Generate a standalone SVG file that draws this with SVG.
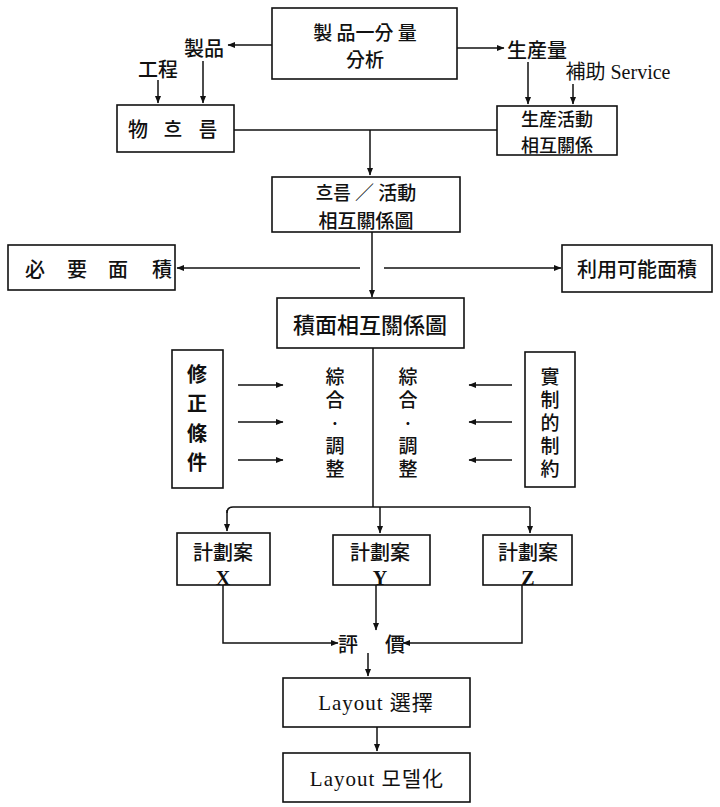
<svg xmlns="http://www.w3.org/2000/svg" width="720" height="807" viewBox="0 0 720 807">
<defs>
<marker id="ah" markerWidth="8" markerHeight="7" refX="7" refY="3.5" orient="auto" markerUnits="userSpaceOnUse">
<path d="M0,0.5 L7.5,3.5 L0,6.5 Z" fill="#111"/>
</marker>
<style>
rect{fill:#fff;stroke:#111;stroke-width:1.6}
.c line,.c polyline,.c path{stroke:#111;stroke-width:1.5;fill:none}
.a{marker-end:url(#ah)}
text{font-family:"Liberation Serif","Noto Sans CJK KR",serif;font-size:20px;fill:#111;text-anchor:middle;dominant-baseline:central}
.k{font-family:"Noto Sans CJK KR","Noto Sans CJK SC",sans-serif;font-weight:500}
.b{font-size:22px}
.s19{font-size:19px}
.s18{font-size:18px}
.vt{writing-mode:vertical-rl;text-orientation:upright;font-size:19px;letter-spacing:4px;dominant-baseline:auto}
.lat{font-family:"Liberation Serif","Noto Sans CJK KR",serif;font-size:21px;letter-spacing:1px}
.xyz{font-family:"Liberation Serif",serif;font-weight:bold}
</style>
</defs>
<rect width="720" height="807" style="fill:#fff;stroke:none"/>

<g class="c">
<line class="a" x1="272" y1="45" x2="228" y2="45"/>
<line class="a" x1="457" y1="48" x2="504" y2="48"/>
<line class="a" x1="158" y1="80" x2="158" y2="103"/>
<line class="a" x1="203" y1="61" x2="203" y2="103"/>
<line class="a" x1="528" y1="62" x2="528" y2="104"/>
<line class="a" x1="573" y1="84" x2="573" y2="104"/>
<line x1="234" y1="130" x2="497" y2="130"/>
<line class="a" x1="370" y1="130" x2="370" y2="175"/>
<line class="a" x1="372" y1="232" x2="372" y2="297"/>
<line class="a" x1="360" y1="268" x2="177" y2="268"/>
<line class="a" x1="384" y1="268" x2="561" y2="268"/>
<line class="a" x1="238" y1="385" x2="283" y2="385"/>
<line class="a" x1="238" y1="422" x2="283" y2="422"/>
<line class="a" x1="238" y1="460" x2="283" y2="460"/>
<line class="a" x1="512" y1="385" x2="469" y2="385"/>
<line class="a" x1="512" y1="422" x2="469" y2="422"/>
<line class="a" x1="512" y1="460" x2="469" y2="460"/>
<line x1="373" y1="348" x2="373" y2="507"/>
<path d="M227,513 Q227,507 233,507 L530,507"/>
<line class="a" x1="227" y1="510" x2="227" y2="531"/>
<line class="a" x1="380" y1="507" x2="380" y2="533"/>
<line class="a" x1="530" y1="507" x2="530" y2="533"/>
<polyline class="a" points="223,585 223,643 338,643"/>
<polyline class="a" points="522,585 522,643 403,643"/>
<line class="a" x1="376" y1="585" x2="376" y2="630"/>
<line class="a" x1="368" y1="653" x2="368" y2="676"/>
<line class="a" x1="377" y1="727" x2="377" y2="751"/>
</g>

<g id="n-top">
<rect x="272" y="8" width="185" height="71"/>
<text class="k s19"><tspan x="365" y="31">製 品一分 量</tspan><tspan x="365" y="58">分析</tspan></text>
</g>
<g id="n-seihin"><text class="k" x="204" y="47">製品</text></g>
<g id="n-kotei"><text class="k" x="158" y="68">工程</text></g>
<g id="n-seisanryo"><text class="k" x="537" y="49">生産量</text></g>
<g id="n-hojo"><text x="618" y="72">補助 Service</text></g>
<g id="n-mono">
<rect x="117" y="105" width="117" height="47"/>
<text class="k" x="138 173 208" y="128">物흐름</text>
</g>
<g id="n-katsudo">
<rect x="497" y="106" width="120" height="49"/>
<text class="k s18"><tspan x="557" y="117.5">生産活動</tspan><tspan x="557" y="144">相互關係</tspan></text>
</g>
<g id="n-flow">
<rect x="272" y="177" width="188" height="55"/>
<text class="k s19"><tspan x="366" y="190.5">흐름 ／ 活動</tspan><tspan x="366" y="218.5">相互關係圖</tspan></text>
</g>
<g id="n-hitsuyo">
<rect x="8" y="245" width="167" height="45"/>
<text class="k" x="35 77 118 162" y="268">必要面積</text>
</g>
<g id="n-riyo">
<rect x="562" y="245" width="150" height="47"/>
<text class="k" x="637" y="268">利用可能面積</text>
</g>
<g id="n-sekimen">
<rect x="277" y="298" width="187" height="50"/>
<text class="k b" x="370" y="323">積面相互關係圖</text>
</g>
<g id="n-shusei">
<rect x="172" y="350" width="51" height="138"/>
<text class="k vt" x="197" y="423" style="font-size:20px;letter-spacing:9.5px;font-weight:bold">修正條件</text>
</g>
<g id="n-sogo1">
<text class="k vt" x="335" y="425">綜合·調整</text>
</g>
<g id="n-sogo2">
<text class="k vt" x="408" y="425">綜合·調整</text>
</g>
<g id="n-jissei">
<rect x="525" y="352" width="50" height="135"/>
<text class="k vt" x="550" y="425">實制的制約</text>
</g>
<g id="n-x">
<rect x="177" y="533" width="93" height="52"/>
<text class="k"><tspan x="223" y="551">計劃案</tspan><tspan class="xyz" x="223" y="578">X</tspan></text>
</g>
<g id="n-y">
<rect x="333" y="535" width="97" height="50"/>
<text class="k"><tspan x="380" y="551">計劃案</tspan><tspan class="xyz" x="380" y="578">Y</tspan></text>
</g>
<g id="n-z">
<rect x="483" y="535" width="89" height="50"/>
<text class="k"><tspan x="528" y="551">計劃案</tspan><tspan class="xyz" x="528" y="578">Z</tspan></text>
</g>
<g id="n-hyoka">
<text class="k" x="348 395" y="643">評價</text>
</g>
<g id="n-sentaku">
<rect x="283" y="678" width="187" height="49"/>
<text class="lat" x="376" y="703">Layout 選擇</text>
</g>
<g id="n-model">
<rect x="283" y="753" width="187" height="49"/>
<text class="lat" x="377" y="779">Layout 모델化</text>
</g>
</svg>
